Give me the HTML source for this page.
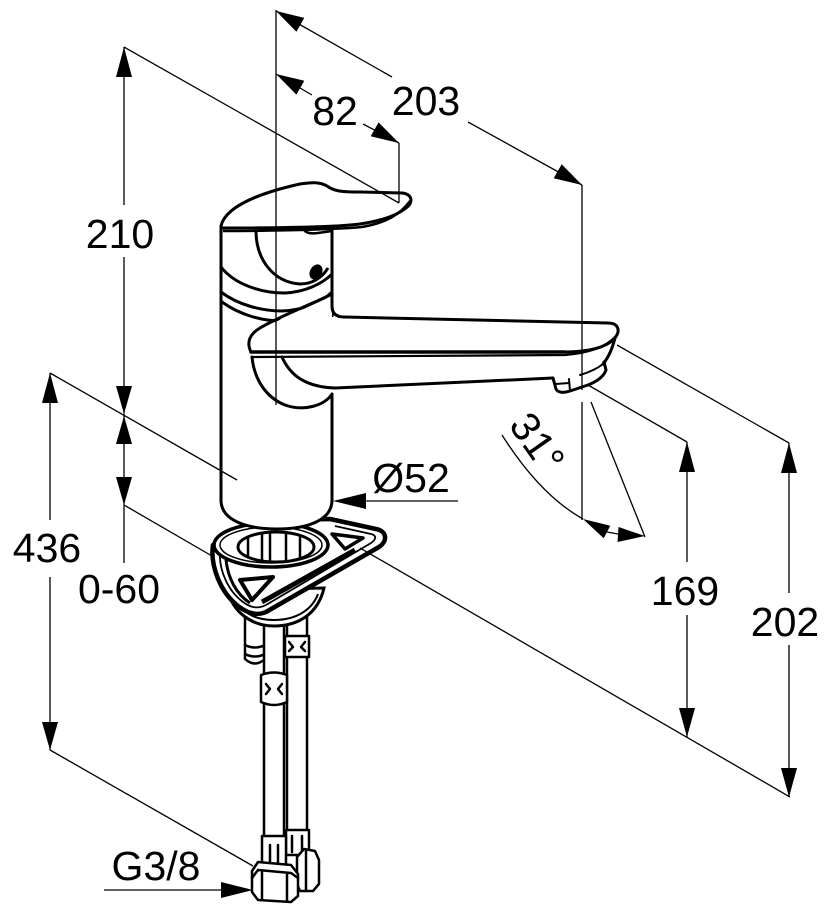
<!DOCTYPE html>
<html><head><meta charset="utf-8"><style>
html,body{margin:0;padding:0;background:#fff;}
svg{display:block;}
text{font-family:"Liberation Sans",sans-serif;font-size:41px;fill:#000;}
</style></head><body>
<svg width="829" height="911" viewBox="0 0 829 911" xmlns="http://www.w3.org/2000/svg">
<defs>
<clipPath id="inner"><ellipse cx="276" cy="547" rx="38" ry="15"/></clipPath>
</defs>

<!-- PIPES -->
<g fill="#fff" stroke="#000" stroke-width="2.5" stroke-linejoin="round" stroke-linecap="round">
  <path d="M287,612 L287,834 L307,834 L307,612 Z"/>
  <path d="M285,636 L285,657 L309,657 L309,636 Z"/>
  <path d="M289,642 L293,647 L289,651 M305,642 L301,647 L305,651" fill="none"/>
  <path d="M286,830 L286,855 L309,855 L309,830 Z"/>
  <path d="M292,836 L292,852 M302,836 L302,852" fill="none"/>
  <path d="M297,857 L304,849 L315,851 L319,860 L319,884 L313,891 L300,891 L297,884 Z"/>
  <path d="M306,851 L306,891" fill="none"/>
  <path d="M245,612 L245,659 Q255,668 265,659 L265,612 Z"/>
  <path d="M245,645 Q255,650 265,645 M245,654 Q255,659 265,654" fill="none"/>
  <path d="M264,612 L264,840 L284,840 L284,612 Z"/>
  <path d="M261,675 L261,702 Q274,708 287,702 L287,675 Q274,670 261,675 Z"/>
  <path d="M266,684 L270,689 L266,694 M282,684 L278,689 L282,694" fill="none"/>
  <path d="M262,836 L262,866 L286,866 L286,836 Z"/>
  <path d="M270,845 L270,864 M278,845 L278,864" fill="none"/>
  <path d="M252,871 L258,862 L291,865 L298,874 L298,896 L291,902 L258,900 L252,892 Z"/>
  <path d="M262,871 L262,900 M287,873 L287,901 M252,878 L258,870 L291,873 L298,878" fill="none"/>
</g>

<!-- nut under plate -->
<path d="M228,590 C232,612 252,626 274,626 C298,626 318,614 324,588 Z" fill="#fff" stroke="#000" stroke-width="3"/>
<path d="M236,600 C244,615 258,620 274,620 C296,620 312,610 318,594" fill="none" stroke="#000" stroke-width="2"/>

<!-- triangular plate -->
<path d="M213,545 C210,565 220,592 238,606 C247,613 257,616 266,612 L379,547 C388,541 387,531 376,529 L330,519 L250,521 Z" fill="#fff" stroke="#000" stroke-width="4.5" stroke-linejoin="round"/>
<path d="M220,553 C219,570 228,591 243,602 C251,608 258,609 266,605 L371,543 C377,539 376,535 371,534 L335,526" fill="none" stroke="#000" stroke-width="1.8"/>
<path d="M226,560 C228,578 236,594 250,603" fill="none" stroke="#000" stroke-width="3"/>
<path d="M240,580 L273,577 L252,600 Z" fill="#fff" stroke="#000" stroke-width="4" stroke-linejoin="round"/>
<path d="M332,534 L363,538 L345,549 Z" fill="#fff" stroke="#000" stroke-width="3.5" stroke-linejoin="round"/>
<path d="M262,602 L355,550" fill="none" stroke="#000" stroke-width="5"/>

<!-- ring -->
<ellipse cx="271" cy="545" rx="57" ry="22" fill="#fff" stroke="#000" stroke-width="3.5"/>
<ellipse cx="271" cy="545" rx="51" ry="18" fill="none" stroke="#000" stroke-width="1.5"/>
<ellipse cx="276" cy="547" rx="38" ry="15" fill="#fff" stroke="#000" stroke-width="3"/>
<g clip-path="url(#inner)" stroke="#000" stroke-width="2.5" fill="none">
  <path d="M248,530 L248,565 M262,530 L262,565 M270,530 L270,565 M286,530 L286,565 M300,530 L300,565"/>
</g>

<!-- BODY -->
<path d="M221,228 L221,500 C221,521 248,529 277,529 C306,529 332,521 332,500 L332,228 Z" fill="#fff" stroke="#000" stroke-width="3"/>

<g fill="none" stroke="#000" stroke-width="3" stroke-linecap="round">
  <path d="M221,267 C235,285 262,293 285,293 C305,292 322,284 332,274"/>
  <path d="M221,292 C238,305 262,311 282,311 C305,310 322,302 332,292"/>
  <path d="M222,302 C240,315 262,321 282,321 C303,320 320,313 332,303"/>
</g>
<path d="M256,231 C256,258 272,282 300,284 C312,284 322,278 328,268" fill="none" stroke="#000" stroke-width="3"/>
<ellipse cx="316" cy="272" rx="6" ry="8" transform="rotate(30 316 272)" fill="#000"/>

<!-- HANDLE -->
<path d="M221,226 C225,208 255,194 300,184 C312,182 320,182 327,186 C334,191 340,192 360,192 L402,193 C412,194 414,202 406,208 C396,216 380,221 360,224 C330,228 250,228 221,228 Z" fill="#fff" stroke="#000" stroke-width="3" stroke-linejoin="round"/>
<path d="M223,231 C260,231 330,230 362,227 C385,223 400,215 410,201" fill="none" stroke="#000" stroke-width="2.5"/>
<path d="M303,228 C305,233 310,234 318,233 L332,231" fill="none" stroke="#000" stroke-width="2.5"/>

<!-- SPOUT -->
<path d="M332,296 L332,317 L605,323 C620,325 620,335 612,348 L605,366 L583,376 L553,378 L340,388 L332,396 L300,410 L280,404 L255,380 L249,352 L258,330 Z" fill="#fff"/>
<g fill="none" stroke="#000" stroke-width="3" stroke-linecap="round" stroke-linejoin="round">
  <path d="M332,290 L332,306 Q332,317 344,317 L608,323 C618,323 621,330 615,338 C607,347 590,352 563,352"/>
  <path d="M251,352 L565,352" stroke-width="3.5"/>
  <path d="M252,357 C400,356 540,356 565,355 C590,353 607,346 616,336" stroke-width="2.2"/>
  <path d="M251,352 C246,342 250,334 260,328 C280,316 310,305 330,295"/>
  <path d="M252,357 C254,378 265,397 285,405 C305,412 325,405 332,394"/>
  <path d="M282,357 C290,375 305,387 335,388 L553,378"/>
  <path d="M615,338 C612,350 608,358 603,364"/>
  <path d="M553,378 L556,389 C558,393 564,393 570,391 L588,385 C598,381 604,376 606,370 L604,362"/>
  <path d="M556,384 L569,383 M569,379 L570,391" stroke-width="2"/>
  <path d="M580,375 C590,372 598,368 603,364" stroke-width="2"/>
</g>

<!-- DIMENSION LINES -->
<g stroke="#000" stroke-width="1.3" fill="none">
  <path d="M276,10 L276,405"/>
  <path d="M399,143 L399,203"/>
  <path d="M582,185 L582,390 M582,402 L582,520"/>
  <path d="M591,402 L645,537"/>
  <path d="M276,11 L392,77 M468,122 L582,185"/>
  <path d="M276,74 L312,95 M363,124 L399,143"/>
  <path d="M124,47 L399,203"/>
  <path d="M124,47 L124,205 M124,257 L124,563"/>
  <path d="M50,373 L237,480"/>
  <path d="M50,373 L50,520 M50,577 L50,750"/>
  <path d="M124,505 L212,556"/>
  <path d="M50,750 L253,866"/>
  <path d="M360,548 L790,797"/>
  <path d="M588,385 L687,442"/>
  <path d="M617,345 L789,443"/>
  <path d="M687,442 L687,562 M687,615 L687,737"/>
  <path d="M789,443 L789,593 M789,645 L789,797"/>
  <path d="M365,501 L458,501"/>
  <path d="M104,890 L221,890"/>
  <path d="M502,435 Q540,495 583,519"/>
  <path d="M607,532 L618,534"/>
</g>

<g fill="#000">
  <polygon points="124,47 116,77 132,77"/>
  <polygon points="124,414 116,386 132,386"/>
  <polygon points="124,416 116,444 132,444"/>
  <polygon points="124,505 116,477 132,477"/>
  <polygon points="50,373 42,403 58,403"/>
  <polygon points="50,750 42,722 58,722"/>
  <polygon points="687,442 679,472 695,472"/>
  <polygon points="687,737 679,708 695,708"/>
  <polygon points="789,443 781,473 797,473"/>
  <polygon points="789,797 781,768 797,768"/>
  <polygon points="276,11 296.4,31.8 304.3,17.9"/>
  <polygon points="582,185 553.7,178.2 561.7,164.3"/>
  <polygon points="276,74 296.4,94.6 304.3,80.7"/>
  <polygon points="399,143 370.7,136.3 378.6,122.4"/>
  <polygon points="333,501 366,493 366,509"/>
  <polygon points="253,890 221,882 221,898"/>
  <polygon points="583,519 603.7,538.2 610.3,525.8"/>
  <polygon points="645,536 617.5,542 618.5,527"/>
</g>

<text x="426" y="115" text-anchor="middle">203</text>
<text x="335" y="125" text-anchor="middle">82</text>
<text x="120" y="248" text-anchor="middle">210</text>
<text x="47" y="562" text-anchor="middle">436</text>
<text x="119" y="603" text-anchor="middle">0-60</text>
<text x="685" y="605" text-anchor="middle">169</text>
<text x="785" y="636" text-anchor="middle">202</text>
<text x="411" y="492" text-anchor="middle">Ø52</text>
<text x="156" y="880" text-anchor="middle">G3/8</text>
<text transform="translate(538,442) rotate(55)" x="0" y="15" text-anchor="middle">31°</text>
</svg>
</body></html>
